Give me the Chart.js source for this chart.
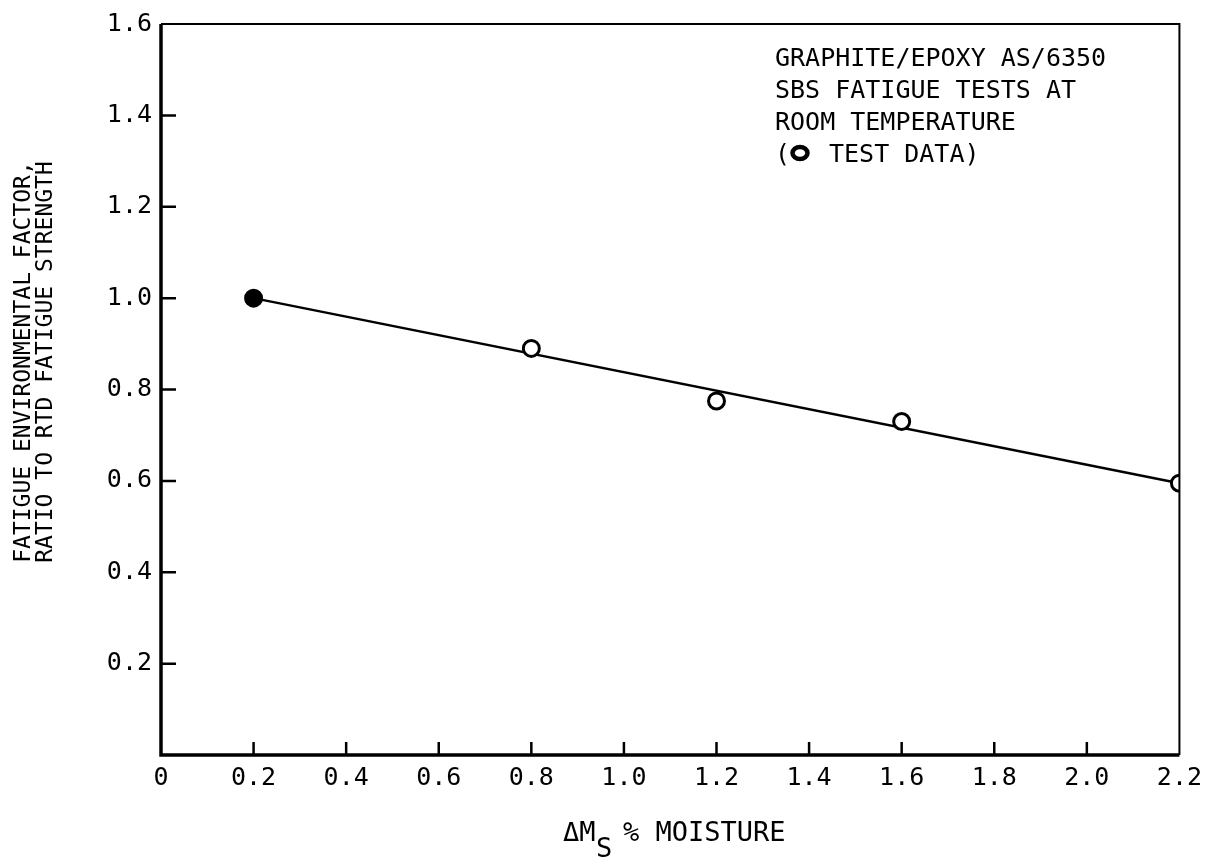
<!DOCTYPE html>
<html>
<head>
<meta charset="utf-8">
<script src="https://cdn.jsdelivr.net/npm/chart.js@4.4.1/dist/chart.umd.min.js"></script>
<style>
  html, body { margin: 0; padding: 0; background: #fff; }
  #wrap { width: 1210px; height: 860px; position: relative; }
</style>
</head>
<body>
<div id="wrap"><canvas id="c" width="1210" height="860"></canvas></div>
<script>
// test data, moisture % vs fatigue factor
var moisture = [0.2, 0.8, 1.2, 1.6, 2.2];
var factor   = [1.0, 0.89, 0.775, 0.73, 0.595];
// fitted line end points
var fitX = [0.2, 2.2];
var fitY = [1.0, 0.595];

var xTicks = [0, 0.2, 0.4, 0.6, 0.8, 1.0, 1.2, 1.4, 1.6, 1.8, 2.0, 2.2];
var yTicks = [0.2, 0.4, 0.6, 0.8, 1.0, 1.2, 1.4, 1.6];

var noteLines = ["GRAPHITE/EPOXY AS/6350", "SBS FATIGUE TESTS AT", "ROOM TEMPERATURE"];
var yTitle = ["FATIGUE ENVIRONMENTAL FACTOR,", "RATIO TO RTD FATIGUE STRENGTH"];

var FONT = "'DejaVu Sans Mono', monospace";

var pts = [];
for (var i in moisture) pts.push({ x: moisture[i], y: factor[i] });
var fit = [];
for (var i in fitX) fit.push({ x: fitX[i], y: fitY[i] });

var frame = {
    id: "frame",
    afterDraw: function (chart) {
        var ctx = chart.ctx, a = chart.chartArea;
        var xs = chart.scales.x, ys = chart.scales.y;
        ctx.save();
        ctx.strokeStyle = "#000";
        // top + right, thinner
        ctx.lineWidth = 2;
        ctx.beginPath();
        ctx.moveTo(a.left, a.top); ctx.lineTo(a.right, a.top); ctx.lineTo(a.right, a.bottom);
        ctx.stroke();
        // left + bottom, heavy
        ctx.lineWidth = 3.5;
        ctx.beginPath();
        ctx.moveTo(a.left, a.top); ctx.lineTo(a.left, a.bottom); ctx.lineTo(a.right, a.bottom);
        ctx.stroke();

        // inward ticks
        ctx.lineWidth = 2.5;
        ctx.beginPath();
        for (var i in xTicks) {
            var v = xTicks[i];
            if (v <= 0 || v >= 2.2) continue;
            var px = xs.getPixelForValue(v);
            ctx.moveTo(px, a.bottom); ctx.lineTo(px, a.bottom - 13);
        }
        for (var i in yTicks) {
            var v = yTicks[i];
            if (v >= 1.6) continue;
            var py = ys.getPixelForValue(v);
            ctx.moveTo(a.left, py); ctx.lineTo(a.left + 15, py);
        }
        ctx.stroke();

        // note block
        ctx.fillStyle = "#000";
        ctx.font = "25px " + FONT;
        ctx.textAlign = "left";
        ctx.textBaseline = "alphabetic";
        for (var i in noteLines)
            ctx.fillText(noteLines[i], 775, 66 + i * 32);
        ctx.fillText("(", 775, 162);
        ctx.lineWidth = 4.5;
        ctx.beginPath();
        ctx.ellipse(800, 153, 7.5, 6, 0, 0, Math.PI * 2);
        ctx.stroke();
        ctx.fillText("TEST DATA)", 829, 162);

        // y title, rotated
        ctx.save();
        ctx.font = "23px " + FONT;
        ctx.textAlign = "center";
        ctx.textBaseline = "middle";
        ctx.translate(24, 362);
        ctx.rotate(-Math.PI / 2);
        ctx.fillText(yTitle[0], 0, 0);
        ctx.fillText(yTitle[1], 0, 22);
        ctx.restore();

        // x title with subscript
        ctx.font = "27px " + FONT;
        ctx.textAlign = "left";
        ctx.textBaseline = "alphabetic";
        ctx.fillText("\u0394M", 563, 841);
        ctx.fillText("S", 596, 857);
        ctx.fillText("% MOISTURE", 623, 841);
        ctx.restore();
    }
};

new Chart(document.getElementById("c"), {
    type: "scatter",
    data: {
        datasets: [
            {
                label: "fit",
                type: "line",
                data: fit,
                borderColor: "#000",
                borderWidth: 2.5,
                pointRadius: 0,
                showLine: true,
                order: 2
            },
            {
                label: "test data",
                data: pts,
                pointStyle: "circle",
                pointRadius: 8,
                pointBorderWidth: 3,
                pointBorderColor: "#000",
                pointBackgroundColor: ["#000", "#fff", "#fff", "#fff", "#fff"],
                order: 1
            }
        ]
    },
    options: {
        responsive: false,
        animation: false,
        events: [],
        layout: { padding: { top: 21, right: 28, left: 0, bottom: 0 } },
        plugins: { legend: { display: false }, tooltip: { enabled: false } },
        scales: {
            x: {
                type: "linear",
                min: 0, max: 2.2,
                afterBuildTicks: function (s) { s.ticks = xTicks.map(function (v) { return { value: v }; }); },
                afterFit: function (s) { s.height = 105; },
                grid: { display: false, drawTicks: false },
                border: { display: false },
                ticks: {
                    color: "#000",
                    font: { family: FONT, size: 25 },
                    padding: 8,
                    maxRotation: 0,
                    autoSkip: false,
                    callback: function (v) { return v === 0 ? "0" : v.toFixed(1); }
                }
            },
            y: {
                type: "linear",
                min: 0, max: 1.6,
                afterBuildTicks: function (s) { s.ticks = yTicks.map(function (v) { return { value: v }; }); },
                afterFit: function (s) { s.width = 161; },
                grid: { display: false, drawTicks: false },
                border: { display: false },
                ticks: {
                    color: "#000",
                    font: { family: FONT, size: 25 },
                    padding: 9,
                    autoSkip: false,
                    callback: function (v) { return v.toFixed(1); }
                }
            }
        }
    },
    plugins: [frame]
});
</script>
</body>
</html>
